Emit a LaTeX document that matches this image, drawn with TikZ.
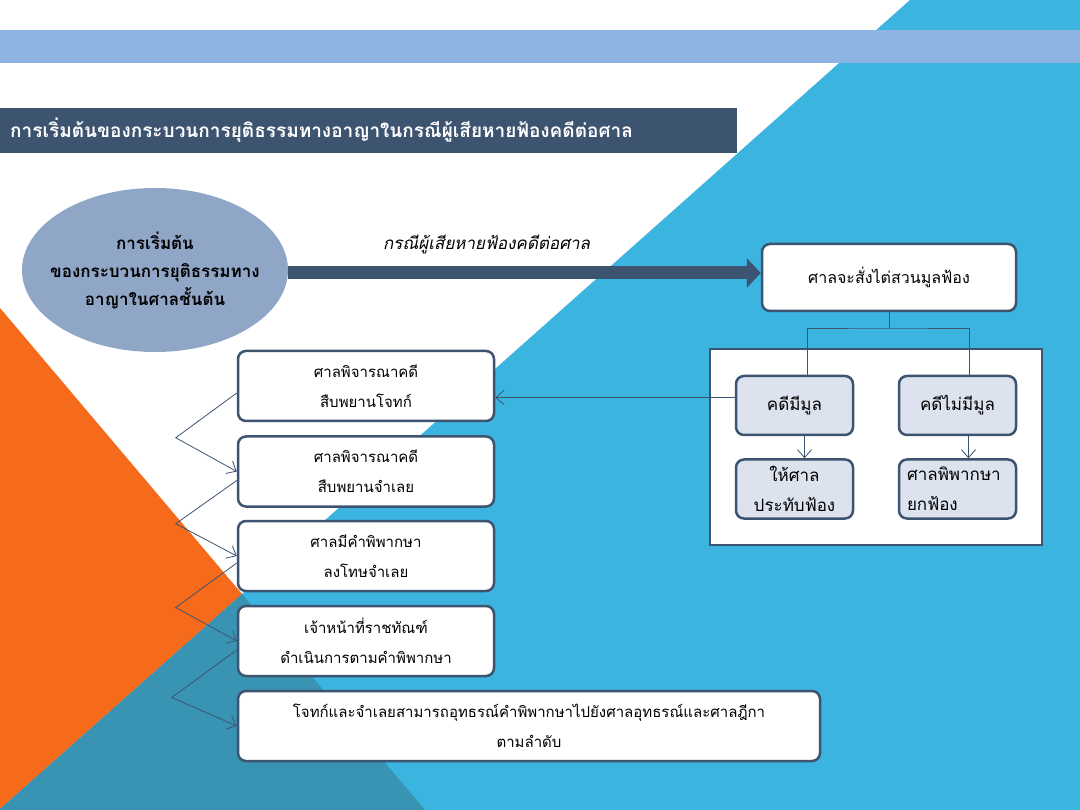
\documentclass[tikz,border=0pt]{standalone}
\usepackage{fontspec}
\usepackage{tikz}
\usetikzlibrary{positioning,arrows.meta,calc,shapes.geometric}
\newfontfamily\thai[Script=Thai]{Loma}
\newfontfamily\thaislant[Script=Thai,FakeSlant=0.2]{Loma}

\definecolor{skyblue}{HTML}{3BB4E0}
\definecolor{bandblue}{HTML}{8EB4E3}
\definecolor{deeporange}{HTML}{F56B1B}
\definecolor{darkteal}{HTML}{3994B3}
\definecolor{slate}{HTML}{3C5470}
\definecolor{greyblue}{HTML}{8FA6C6}
\definecolor{boxgrey}{HTML}{DCE3EE}

\tikzset{
  whitebox/.style={draw=slate, line width=2.5pt, fill=white, rounded corners=8pt,
    align=center, inner sep=2pt, minimum width=256pt, minimum height=70pt,
    font=\thai\fontsize{15}{30}\selectfont},
  greybox/.style={whitebox, fill=boxgrey, minimum width=117pt, minimum height=59pt,
    font=\thai\fontsize{17}{30}\selectfont},
  link/.style={draw=slate, line width=0.8pt},
  hop/.style={link, -{Straight Barb[length=8pt,width=14pt]}},
}

\begin{document}
\begin{tikzpicture}[x=1pt, y=-1pt]
  \useasboundingbox (0,0) rectangle (1080,810);

  % Fond
  \fill[white] (0,0) rectangle (1080,810);
  \fill[skyblue] (910,0) -- (1080,0) -- (1080,810) -- (-1,810) -- cycle;
  \fill[deeporange] (0,308) -- (242,594) -- (0,809) -- cycle;
  \fill[darkteal] (242,594) -- (425,810) -- (0,810) -- (0,809) -- cycle;
  \fill[bandblue] (0,30) rectangle (1080,63);

  % Titre
  \node[fill=slate, text=white, anchor=west, minimum height=45pt, text width=717pt,
    inner xsep=10pt, align=left, font=\thai\bfseries\fontsize{19}{22}\selectfont]
    (title) at (0,130.5) {การเริ่มต้นของกระบวนการยุติธรรมทางอาญาในกรณีผู้เสียหายฟ้องคดีต่อศาล};

  % Depart
  \node[ellipse, fill=greyblue, minimum width=266pt, minimum height=164pt, inner sep=0pt]
    (start) at (155,270) {};
  \node[align=center, font=\thai\bfseries\fontsize{17}{28}\selectfont] (starttext) at (start.center)
    {การเริ่มต้น\\ของกระบวนการยุติธรรมทาง\\อาญาในศาลชั้นต้น};

  % Ordonnance
  \node[whitebox, minimum width=254pt, minimum height=67pt,
    font=\thai\fontsize{16}{30}\selectfont] (inquiry) at (889,277.5) {ศาลจะสั่งไต่สวนมูลฟ้อง};

  \draw[draw=slate, line width=13pt, -{Triangle[length=14pt,width=29pt]}]
    (start.east |- 0,273) -- (inquiry.west |- 0,273)
    node[pos=0.42, above=9pt, text=black, font=\thaislant\fontsize{17}{20}\selectfont] (caselabel)
    {กรณีผู้เสียหายฟ้องคดีต่อศาล};

  % Cadre
  \node[draw=slate, line width=2pt, fill=white, minimum width=332pt, minimum height=196pt]
    (panel) at (876,447) {};

  \node[greybox] (grounds) at (794.5,405.5) {คดีมีมูล};
  \node[greybox] (nogrounds) at (957.5,405.5) {คดีไม่มีมูล};
  \node[greybox] (accept) at (794.5,489) {ให้ศาล\\ประทับฟ้อง};
  \node[greybox, align=left, text width=101pt] (dismiss) at (957.5,489) {ศาลพิพากษา\\ยกฟ้อง};

  \coordinate (split) at (889,328);
  \draw[link] (inquiry.south) -- (split);
  \draw[link] ([xshift=13pt]grounds.north) |- (split) -| ([xshift=11.5pt]nogrounds.north);
  \draw[hop] ([xshift=10pt]grounds.south) -- ([xshift=10pt]accept.north);
  \draw[hop] ([xshift=11pt]nogrounds.south) -- ([xshift=11pt]dismiss.north);

  % Etapes
  \node[whitebox] (plaintiff) at (366,386) {ศาลพิจารณาคดี\\สืบพยานโจทก์};
  \node[whitebox] (defendant) at (366,471.5) {ศาลพิจารณาคดี\\สืบพยานจำเลย};
  \node[whitebox] (verdict) at (366,556) {ศาลมีคำพิพากษา\\ลงโทษจำเลย};
  \node[whitebox] (prison) at (366,641) {เจ้าหน้าที่ราชทัณฑ์\\ดำเนินการตามคำพิพากษา};
  \node[whitebox, minimum width=582pt] (appeal) at (529,726)
    {โจทก์และจำเลยสามารถอุทธรณ์คำพิพากษาไปยังศาลอุทธรณ์และศาลฎีกา\\ตามลำดับ};

  \draw[hop] ([yshift=8pt]grounds.west) -- ([yshift=8pt]grounds.west -| plaintiff.east);

  % Connexions
  \draw[hop] ([yshift=-7pt]plaintiff.west) -- ($(plaintiff.west)!0.5!(defendant.west)+(-61,9)$) -- (defendant.west);
  \draw[hop] ([yshift=-9pt]defendant.west) -- ($(defendant.west)!0.5!(verdict.west)+(-61,10)$) -- (verdict.west);
  \draw[hop] ([yshift=-7pt]verdict.west) -- ($(verdict.west)!0.5!(prison.west)+(-61,9)$) -- (prison.west);
  \draw[hop] ([yshift=-9pt]prison.west) -- ($(prison.west)!0.5!(appeal.west)+(-65,14)$) -- (appeal.west);
\end{tikzpicture}
\end{document}
